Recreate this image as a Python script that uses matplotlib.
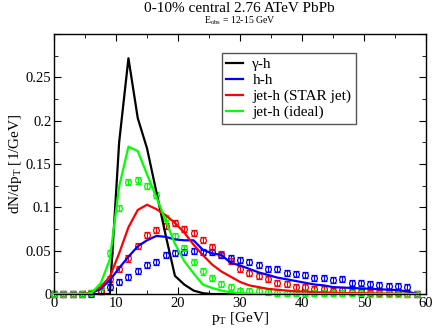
import numpy as np
import matplotlib
matplotlib.use('Agg')
import matplotlib.pyplot as plt
from matplotlib.ticker import MultipleLocator, FuncFormatter

plt.rcParams['font.family'] = 'Liberation Serif'
plt.rcParams['mathtext.fontset'] = 'custom'
plt.rcParams['mathtext.rm'] = 'Liberation Serif'
plt.rcParams['mathtext.it'] = 'Liberation Serif:italic'

# pT bins (GeV)
pt = [0, 1.5, 3, 4.5, 6, 7.5, 9, 10.5, 12, 13.5, 15, 16.5, 18, 19.5, 21, 22.5,
      24, 25.5, 27, 28.5, 30, 31.5, 33, 34.5, 36, 37.5, 39, 40.5, 42, 43.5,
      45, 46.5, 48, 49.5, 51, 52.5, 54, 55.5, 57, 58.5]

# curves
gamma_h = [0, 0, 0, 0, 0, 0, 0, 0.175, 0.272, 0.203, 0.168, 0.118, 0.068, 0.021,
           0.011, 0.004, 0.001, 0, 0, 0, 0, 0, 0, 0, 0, 0, 0, 0, 0, 0,
           0, 0, 0, 0, 0, 0, 0, 0, 0, 0]
h_h = [0, 0, 0, 0, 0.001, 0.006, 0.016, 0.030, 0.043, 0.055, 0.062, 0.067, 0.066,
       0.063, 0.062, 0.062, 0.051, 0.047, 0.045, 0.036, 0.033, 0.029, 0.025, 0.022,
       0.019, 0.017, 0.015, 0.013, 0.011, 0.010, 0.008, 0.0075, 0.007, 0.0065,
       0.006, 0.0055, 0.005, 0.0045, 0.003, 0]
jet_star = [0, 0, 0, 0, 0.002, 0.008, 0.020, 0.047, 0.077, 0.097, 0.103, 0.098,
            0.091, 0.082, 0.071, 0.057, 0.045, 0.034, 0.026, 0.020, 0.014, 0.010,
            0.008, 0.006, 0.005, 0.004, 0.003, 0.003, 0.002, 0.002, 0.0015, 0.0012,
            0.001, 0.001, 0.0008, 0.0006, 0.0005, 0.0004, 0.0003, 0]
jet_ideal = [0, 0, 0, 0, 0.001, 0.012, 0.040, 0.124, 0.170, 0.165, 0.138, 0.112,
             0.085, 0.058, 0.038, 0.024, 0.011, 0.007, 0.004, 0.002, 0.001, 0.0005,
             0, 0, 0, 0, 0, 0, 0, 0, 0, 0, 0, 0, 0, 0, 0, 0, 0, 0]

# points with error bars
hh_pts = [0, 0, 0, 0, 0.0005, 0.003, 0.008, 0.014, 0.020, 0.027, 0.033, 0.037, 0.045,
          0.047, 0.049, 0.050, 0.048, 0.048, 0.045, 0.042, 0.039, 0.037, 0.033, 0.029,
          0.029, 0.024, 0.023, 0.022, 0.019, 0.019, 0.016, 0.017, 0.013, 0.013,
          0.0115, 0.010, 0.0095, 0.0095, 0.0085, 0]
star_pts = [0, 0, 0, 0, 0.001, 0.004, 0.017, 0.029, 0.041, 0.055, 0.068, 0.074, 0.079,
            0.082, 0.075, 0.070, 0.062, 0.054, 0.046, 0.038, 0.029, 0.024, 0.021, 0.017,
            0.013, 0.012, 0.0085, 0.0085, 0.006, 0.0055, 0.004, 0.0045, 0.002, 0.002,
            0.0012, 0.001, 0.001, 0.0008, 0.0005, 0]
ideal_pts = [0, 0, 0, 0, 0.001, 0.008, 0.047, 0.099, 0.129, 0.131, 0.125, 0.114, 0.088,
             0.067, 0.053, 0.037, 0.026, 0.018, 0.012, 0.008, 0.004, 0.003, 0.003, 0.002,
             0.0015, 0.001, 0.001, 0.001, 0.001, 0.001, 0.001, 0.001, 0.001, 0.001,
             0.0005, 0.0005, 0.0005, 0.0005, 0.0005, 0]
err = 0.0035

fig = plt.figure(figsize=(4.36, 3.33), dpi=100)
ax = fig.add_axes([0.124, 0.117, 0.853, 0.781])

for vals, c in [(hh_pts, 'blue'), (star_pts, 'red'), (ideal_pts, '#00ff00')]:
    ax.errorbar(pt, vals, yerr=err, fmt='o', ms=4.2, mfc='none', mec=c, mew=0.9,
                ecolor=c, elinewidth=0.8, capsize=2, capthick=0.8, zorder=2,
                clip_on=False)

ax.plot(pt, gamma_h, color='black', lw=1.6, label='γ-h', zorder=3)
ax.plot(pt, h_h, color='blue', lw=1.6, label='h-h', zorder=3)
ax.plot(pt, jet_star, color='red', lw=1.6, label='jet-h (STAR jet)', zorder=3)
ax.plot(pt, jet_ideal, color='#00ff00', lw=1.6, label='jet-h (ideal)', zorder=3)

ax.set_xlim(0, 60)
ax.set_ylim(0, 0.3)
ax.xaxis.set_major_locator(MultipleLocator(10))
ax.xaxis.set_minor_locator(MultipleLocator(5))
ax.yaxis.set_major_locator(MultipleLocator(0.05))
ax.yaxis.set_minor_locator(MultipleLocator(0.025))
ax.yaxis.set_major_formatter(
    FuncFormatter(lambda v, p: '' if v > 0.29 else '%g' % round(v, 3)))
ax.tick_params(which='both', direction='in', top=True, right=True, labelsize=10.5,
               pad=2)
ax.tick_params(which='major', length=5)
ax.tick_params(which='minor', length=3)
for s in ax.spines.values():
    s.set_linewidth(1.0)

ax.set_xlabel(r'p$_\mathrm{T}$ [GeV]', fontsize=11, labelpad=0)
ax.set_ylabel(r'dN/dp$_\mathrm{T}$ [1/GeV]', fontsize=11, labelpad=1)

leg = ax.legend(loc='upper left', bbox_to_anchor=(0.451, 0.928), fontsize=11,
                fancybox=False, edgecolor='#555555', framealpha=1,
                handlelength=1.1, handletextpad=0.6, labelspacing=0.15,
                borderpad=0.3, borderaxespad=0)
leg.get_frame().set_linewidth(1.0)

fig.text(0.55, 0.975, '0-10% central 2.76 ATeV PbPb', ha='center', va='center',
         fontsize=11)
fig.text(0.55, 0.938, r'E$_\mathrm{obs}$ = 12-15 GeV', ha='center', va='center',
         fontsize=7)

fig.savefig('out.png', dpi=100)
